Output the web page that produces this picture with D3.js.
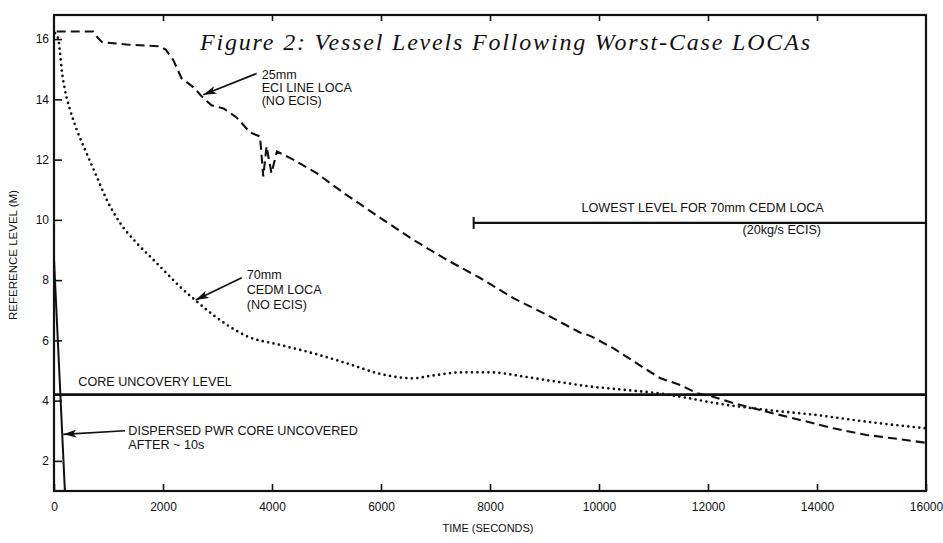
<!DOCTYPE html>
<html>
<head>
<meta charset="utf-8">
<script src="https://cdn.jsdelivr.net/npm/d3@7"></script>
<style>
  body { margin: 0; background: #fff; }
  text { font-family: 'Liberation Sans', Arial, sans-serif; fill: #111; }
  .title { font-family: 'Liberation Serif', 'Times New Roman', serif; font-style: italic; }
</style>
</head>
<body>
<div class="container"></div>
<script>
const xTicks = [0, 2000, 4000, 6000, 8000, 10000, 12000, 14000, 16000];
const yTicks = [2, 4, 6, 8, 10, 12, 14, 16];

// 25mm ECI line LOCA (no ECIS), dashed
const eciTime = [50, 720, 800, 880, 1330, 1950, 2050, 2190, 2340, 2560, 2710, 2890, 3110, 3350, 3600, 3780,
  3840, 3900, 3990, 4090, 4390, 4820, 5310, 6000, 6590, 7210, 7820, 8430, 9040, 9650, 9840, 10260, 10880,
  11120, 11490, 11790, 12090, 12460, 13080, 13690, 14300, 14910, 15520, 16000];
const eciLevel = [16.25, 16.25, 16.05, 15.9, 15.82, 15.76, 15.65, 15.3, 14.7, 14.4, 14.1, 13.8, 13.7, 13.4, 12.9, 12.77,
  11.44, 12.44, 11.55, 12.27, 12.0, 11.55, 10.9, 10.05, 9.34, 8.67, 8.07, 7.4, 6.85, 6.26, 6.15, 5.74, 5.02,
  4.75, 4.52, 4.25, 4.13, 3.92, 3.63, 3.36, 3.08, 2.86, 2.72, 2.6];

// 70mm CEDM LOCA (no ECIS), dotted
const cedmTime = [20, 80, 110, 140, 200, 294, 416, 600, 783, 967, 1211, 1517, 1793, 2006, 2312, 2587, 2923,
  3229, 3536, 4147, 4758, 5370, 6000, 6590, 6900, 7510, 8000, 8610, 9220, 9836, 10450, 11060, 11490,
  12160, 13080, 13995, 14913, 16000];
const cedmLevel = [16.2, 16.0, 15.55, 15.0, 14.32, 13.66, 13.0, 12.2, 11.44, 10.67, 9.9, 9.23, 8.73, 8.34, 7.78, 7.34, 6.84,
  6.45, 6.14, 5.85, 5.57, 5.24, 4.88, 4.74, 4.82, 4.94, 4.94, 4.8, 4.63, 4.47, 4.36, 4.25, 4.13,
  3.91, 3.69, 3.52, 3.3, 3.08];

// dispersed PWR core
const dispersedTime = [0, 200];
const dispersedLevel = [8.7, 1];

const coreLevel = 4.2;
const lowestLevel = 9.9;
const lowestStart = 7700;

const width = 943;
const height = 543;

const svg = d3
  .select('.container')
  .append('svg')
  .attr('width', width)
  .attr('height', height);

const x = d3.scaleLinear().domain([0, 16000]).range([54, 926]);
const y = d3.scaleLinear().domain([1, 16.8]).range([491, 15]);

svg
  .append('defs')
  .append('marker')
  .attr('id', 'arrow')
  .attr('markerUnits', 'userSpaceOnUse')
  .attr('markerWidth', 13)
  .attr('markerHeight', 8)
  .attr('refX', 13)
  .attr('refY', 4)
  .attr('orient', 'auto')
  .append('path')
  .attr('d', 'M0,0 L13,4 L0,8 L3,4 z')
  .attr('fill', '#111');

// axes
const axisStyle = g => {
  g.select('.domain').remove();
  g.selectAll('line').attr('stroke', '#111').attr('stroke-width', 1.6);
  g.selectAll('text').style('font-size', '12px').attr('fill', '#111');
};

svg
  .append('g')
  .attr('transform', `translate(0, ${y(1)})`)
  .call(d3.axisBottom(x).tickValues(xTicks).tickSize(-7).tickPadding(11).tickFormat(d3.format('d')))
  .call(axisStyle);

svg
  .append('g')
  .attr('transform', `translate(0, ${y(16.8)})`)
  .call(d3.axisTop(x).tickValues(xTicks.slice(1, -1)).tickSize(-6).tickFormat(''))
  .call(axisStyle);

svg
  .append('g')
  .attr('transform', `translate(${x(0)}, 0)`)
  .call(d3.axisLeft(y).tickValues(yTicks).tickSize(-8).tickPadding(5))
  .call(axisStyle);

svg
  .append('rect')
  .attr('x', x(0))
  .attr('y', y(16.8))
  .attr('width', x(16000) - x(0))
  .attr('height', y(1) - y(16.8))
  .attr('fill', 'none')
  .attr('stroke', '#111')
  .attr('stroke-width', 2.2);

svg
  .append('text')
  .attr('transform', `translate(13, 255) rotate(-90)`)
  .attr('text-anchor', 'middle')
  .attr('dy', '0.35em')
  .style('font-size', '11.5px')
  .text('REFERENCE LEVEL (M)');

svg
  .append('text')
  .attr('x', 488)
  .attr('y', 532)
  .attr('text-anchor', 'middle')
  .style('font-size', '11px')
  .text('TIME (SECONDS)');

svg
  .append('text')
  .attr('class', 'title')
  .attr('x', 200)
  .attr('y', 50)
  .attr('textLength', 610)
  .attr('lengthAdjust', 'spacing')
  .style('font-size', '24px')
  .text('Figure 2: Vessel Levels Following Worst-Case LOCAs');

// reference levels
svg
  .append('line')
  .attr('x1', x(0))
  .attr('x2', x(16000))
  .attr('y1', y(coreLevel))
  .attr('y2', y(coreLevel))
  .attr('stroke', '#111')
  .attr('stroke-width', 2.8);

svg
  .append('line')
  .attr('x1', x(lowestStart))
  .attr('x2', x(16000))
  .attr('y1', y(lowestLevel))
  .attr('y2', y(lowestLevel))
  .attr('stroke', '#111')
  .attr('stroke-width', 2.2);

svg
  .append('line')
  .attr('x1', x(lowestStart))
  .attr('x2', x(lowestStart))
  .attr('y1', y(lowestLevel) - 6)
  .attr('y2', y(lowestLevel) + 6)
  .attr('stroke', '#111')
  .attr('stroke-width', 2);

// curves
const line = d3
  .line()
  .x(d => x(d[0]))
  .y(d => y(d[1]));

svg
  .append('path')
  .datum(d3.zip(eciTime, eciLevel))
  .attr('d', line)
  .attr('fill', 'none')
  .attr('stroke', '#111')
  .attr('stroke-width', 2.1)
  .attr('stroke-dasharray', '9,5');

svg
  .append('path')
  .datum(d3.zip(cedmTime, cedmLevel))
  .attr('d', line.curve(d3.curveMonotoneX))
  .attr('fill', 'none')
  .attr('stroke', '#111')
  .attr('stroke-width', 2.7)
  .attr('stroke-linecap', 'round')
  .attr('stroke-dasharray', '0,5.5');

svg
  .append('path')
  .datum(d3.zip(dispersedTime, dispersedLevel))
  .attr('d', line.curve(d3.curveLinear))
  .attr('fill', 'none')
  .attr('stroke', '#111')
  .attr('stroke-width', 2);

// annotations
const arrow = (t1, v1, t2, v2) => {
  svg
    .append('line')
    .attr('x1', x(t1))
    .attr('y1', y(v1))
    .attr('x2', x(t2))
    .attr('y2', y(v2))
    .attr('stroke', '#111')
    .attr('stroke-width', 1.7)
    .attr('marker-end', 'url(#arrow)');
};

const label = (t, v, lines, step) => {
  svg
    .append('text')
    .attr('x', x(t))
    .attr('y', y(v))
    .style('font-size', '12.6px')
    .selectAll('tspan')
    .data(lines)
    .enter()
    .append('tspan')
    .attr('x', x(t))
    .attr('dy', (d, i) => (i === 0 ? 0 : step))
    .text(d => d);
};

label(3810, 14.68, ['25mm', 'ECI LINE LOCA', '(NO ECIS)'], 13.3);
arrow(3720, 14.86, 2740, 14.15);

label(3536, 8.04, ['70mm', 'CEDM LOCA', '(NO ECIS)'], 15);
arrow(3444, 8.08, 2600, 7.34);

label(446, 4.49, ['CORE UNCOVERY LEVEL'], 0);

label(1363, 2.86, ['DISPERSED PWR CORE UNCOVERED', 'AFTER ~ 10s'], 14);
arrow(1303, 3.0, 171, 2.88);

label(9680, 10.26, ['LOWEST LEVEL FOR 70mm CEDM LOCA'], 0);
label(12635, 9.53, ['(20kg/s ECIS)'], 0);
</script>
</body>
</html>
